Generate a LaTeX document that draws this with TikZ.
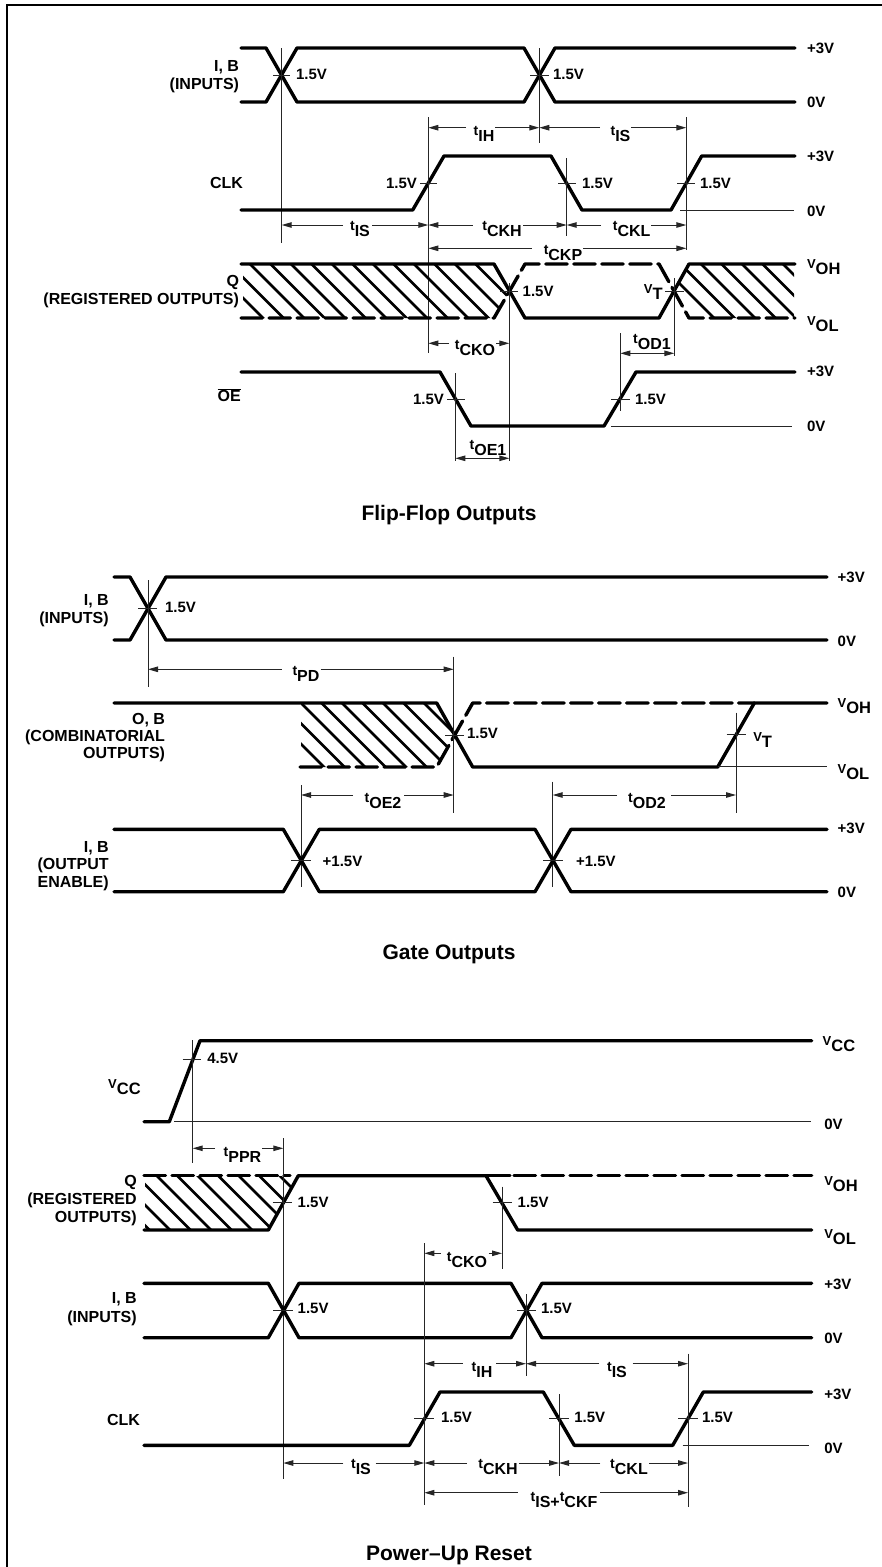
\documentclass[tikz,border=0pt]{standalone}
\usepackage{fontspec}
\setmainfont{Liberation Sans}
\usetikzlibrary{arrows.meta}
\newcounter{lbn}
\newcommand{\fs}[1]{\fontsize{#1}{#1}\selectfont}
\newcommand{\tsub}[1]{{\fs{14}t}\raisebox{-6pt}{\fs{16}#1}}
\newcommand{\vsub}[1]{{\fs{13}V}\raisebox{-6pt}{\fs{16.5}#1}}
% value label: left aligned, #2 centre height
\newcommand{\vall}[3]{\stepcounter{lbn}\node[txtn,anchor=base west,font=\bfseries\fs{15}] (n\thelbn) at (#1,#2+5.4) {#3};}
\newcommand{\valr}[3]{\stepcounter{lbn}\node[txtn,anchor=base east,font=\bfseries\fs{15}] (n\thelbn) at (#1,#2+5.4) {#3};}
% signal name: right aligned
\newcommand{\signame}[3]{\stepcounter{lbn}\node[txtn,anchor=base east,font=\bfseries\fs{16}] (n\thelbn) at (#1,#2+5.7) {#3};}
% subscripted label, #2 = baseline
\newcommand{\subl}[3]{\stepcounter{lbn}\node[txtn,anchor=base west,font=\bfseries] (n\thelbn) at (#1,#2) {#3};}
\newcommand{\subr}[3]{\stepcounter{lbn}\node[txtn,anchor=base east,font=\bfseries] (n\thelbn) at (#1,#2) {#3};}
\newcommand{\ttl}[2]{\stepcounter{lbn}\node[txtn,anchor=base,font=\bfseries\fs{21}] (n\thelbn) at (449,#1) {#2};}
% dimension: x1 x2 y xc xl xr baseline text
\newcommand{\dimm}[8]{\stepcounter{lbn}%
 \coordinate (a\thelbn) at (#1,#3); \coordinate (b\thelbn) at (#2,#3);
 \coordinate (c\thelbn) at (#5,#3); \coordinate (d\thelbn) at (#6,#3);
 \draw[dimline] (c\thelbn) -- (a\thelbn);
 \draw[dimline] (d\thelbn) -- (b\thelbn);
 \node[txtn,anchor=base,font=\bfseries] (n\thelbn) at (#4,#7) {#8};}
% hatch: clip polygon given, top y, bottom y, first x at top, last x at top
\newcommand{\hatchlines}[5]{\begin{scope}\clip #1;
 \pgfmathsetmacro{\nx}{#4+20.5}
 \foreach \hx in {#4,\nx,...,#5} \draw[hatchl] (\hx-10,#2-10) -- (\hx+#3-#2+10,#3+10);
 \end{scope}}
\tikzset{
 txtn/.style={inner sep=0pt,outer sep=0pt},
 wave/.style={line width=3.4pt,line cap=round,line join=round},
 dwave/.style={line width=3.4pt,line cap=round,line join=round,dash pattern=on 21.5pt off 6.5pt},
 thinl/.style={line width=1pt,black!85},
 hatchl/.style={line width=2.6pt},
 dimline/.style={line width=1pt,black!85,-{Triangle[length=10pt,width=5.5pt]}},
 frameline/.style={line width=2.2pt}
}
\begin{document}
\begin{tikzpicture}[x=1pt,y=-1pt]
\useasboundingbox (0,0) rectangle (882,1567);
\draw[frameline] (7,1567) -- (7,5) -- (882,5);

%%%%%%%% Flip-Flop Outputs
\draw[wave] (241,48) -- (266,48) -- (297,102) -- (524,102) -- (555,48) -- (795,48);
\draw[wave] (241,102) -- (266,102) -- (297,48) -- (524,48) -- (555,102) -- (795,102);
\draw[thinl] (281.7,48) -- (281.7,243);
\draw[thinl] (273,75) -- (290,75);
\draw[thinl] (539.3,48) -- (539.3,143);
\draw[thinl] (530,75) -- (549,75);
\vall{296}{74}{1.5V} \vall{553}{74}{1.5V}
\vall{807}{48}{+3V} \vall{807}{102}{0V}
\signame{239}{66}{I, B} \signame{239}{84}{(INPUTS)}

\draw[wave] (241,210) -- (412.7,210) -- (444,156) -- (551,156) -- (582,210) -- (671,210) -- (701.7,156) -- (795,156);
\draw[thinl] (428.3,117) -- (428.3,353);
\draw[thinl] (420,183) -- (437,183);
\draw[thinl] (566.7,158) -- (566.7,236);
\draw[thinl] (558,183) -- (576,183);
\draw[thinl] (686.3,117) -- (686.3,250);
\draw[thinl] (677,183) -- (695,183);
\draw[thinl] (680,210) -- (794,210);
\valr{417}{183}{1.5V} \vall{582}{183}{1.5V} \vall{700}{183}{1.5V}
\vall{807}{156}{+3V} \vall{807}{211}{0V}
\signame{243}{183}{CLK}

\dimm{428.3}{539.3}{127.7}{484}{466}{495}{135.5}{\tsub{IH}}
\dimm{539.3}{686.3}{127.7}{620.5}{600}{631}{135.5}{\tsub{IS}}
\dimm{281.7}{428.3}{225}{360}{343}{372}{230}{\tsub{IS}}
\dimm{428.3}{566.7}{225}{502}{472.7}{523}{230}{\tsub{CKH}}
\dimm{566.7}{686.3}{225}{631.7}{601}{651}{230}{\tsub{CKL}}
\dimm{428.3}{686.3}{248.3}{563}{531.7}{583}{254}{\tsub{CKP}}

\hatchlines{(243,264) -- (494,264) -- (509.3,291) -- (494,318) -- (243,318) -- cycle}{264}{318}{209}{500}
\hatchlines{(689,264) -- (794,264) -- (794,318) -- (689,318) -- (674.3,291) -- cycle}{264}{318}{660}{800}
\draw[dwave] (241,318) -- (494,318) -- (525,264) -- (659,264) -- (689,318) -- (795,318);
\draw[wave] (241,264) -- (494,264) -- (525,318) -- (659,318) -- (689,264) -- (795,264);
\draw[thinl] (509.3,283) -- (509.3,460.7);
\draw[thinl] (500,291) -- (518,291);
\draw[thinl] (674.3,278) -- (674.3,356);
\draw[thinl] (665,291) -- (683.7,291);
\vall{522.7}{291}{1.5V}
\subr{662.7}{293.5}{\vsub{T}}
\subl{807}{268.5}{\vsub{OH}} \subl{807}{325}{\vsub{OL}}
\signame{239}{280.7}{Q} \signame{239}{299}{(REGISTERED OUTPUTS)}
\dimm{428.3}{509.3}{343.3}{475}{449}{496}{349.5}{\tsub{CKO}}
\dimm{620.3}{674.3}{353.3}{652}{647}{647}{343.5}{\tsub{OD1}}

\draw[wave] (241,372) -- (440,372) -- (471,426) -- (604,426) -- (636,372) -- (795,372);
\draw[thinl] (455.3,373) -- (455.3,460.7);
\draw[thinl] (447,399) -- (465,399);
\draw[thinl] (620.3,333) -- (620.3,410.7);
\draw[thinl] (611,399) -- (630,399);
\draw[thinl] (611,426) -- (791.7,426);
\valr{444}{399}{1.5V} \vall{635}{399}{1.5V}
\vall{807}{371}{+3V} \vall{807}{426}{0V}
\signame{240.7}{396}{$\overline{\mbox{OE}}$}
\dimm{455.3}{509.3}{458.3}{488}{482}{482}{449}{\tsub{OE1}}
\ttl{520}{Flip-Flop Outputs}

%%%%%%%% Gate Outputs
\draw[wave] (114,577) -- (130,577) -- (166,640) -- (827,640);
\draw[wave] (114,640) -- (130,640) -- (166,577) -- (827,577);
\draw[thinl] (148,580) -- (148,686.7);
\draw[thinl] (138,608.5) -- (157,608.5);
\vall{165}{607}{1.5V}
\vall{837.7}{577}{+3V} \vall{837.7}{641}{0V}
\signame{108.7}{600}{I, B} \signame{108.7}{618}{(INPUTS)}
\dimm{148}{453.7}{669.3}{306}{281.7}{320.5}{675.7}{\tsub{PD}}

\hatchlines{(301,703) -- (437,703) -- (453.7,735) -- (437,767) -- (301,767) -- cycle}{703}{767}{260}{440}
\draw[dwave] (300,767) -- (436.7,767) -- (472.7,703) -- (754.3,703);
\draw[wave] (114,703) -- (436.7,703) -- (472.7,767) -- (717.7,767) -- (754.3,703) -- (827,703);
\draw[thinl] (453.7,656.7) -- (453.7,813);
\draw[thinl] (445,735) -- (464,735);
\draw[thinl] (736,712.7) -- (736,813.3);
\draw[thinl] (726.7,734) -- (746,734);
\draw[thinl] (717.7,766.5) -- (827,766.5);
\vall{467}{733}{1.5V}
\subl{753.3}{741}{\vsub{T}}
\subl{837.7}{707}{\vsub{OH}} \subl{837.7}{773}{\vsub{OL}}
\signame{165}{719}{O, B} \signame{165}{735.5}{(COMBINATORIAL} \signame{165}{753}{OUTPUTS)}
\draw[thinl] (301,785) -- (301,886.7);
\draw[thinl] (552.7,781.7) -- (552.7,886.7);
\dimm{301}{453.7}{795}{383}{353}{404}{802.3}{\tsub{OE2}}
\dimm{552.7}{736}{795}{647}{617}{671}{802.3}{\tsub{OD2}}

\draw[wave] (114,829.3) -- (283.3,829.3) -- (319.3,891.7) -- (535,891.7) -- (571,829.3) -- (827,829.3);
\draw[wave] (114,891.7) -- (283.3,891.7) -- (319.3,829.3) -- (535,829.3) -- (571,891.7) -- (827,891.7);
\draw[thinl] (291,860.7) -- (311,860.7);
\draw[thinl] (543,860.7) -- (563,860.7);
\vall{322.7}{860.7}{+1.5V} \vall{576}{860.7}{+1.5V}
\vall{837.7}{828}{+3V} \vall{837.7}{892}{0V}
\signame{108.7}{846.7}{I, B} \signame{108.7}{864}{(OUTPUT} \signame{108.7}{881.7}{ENABLE)}
\ttl{959}{Gate Outputs}

%%%%%%%% Power-Up Reset
\draw[wave] (144,1121.7) -- (169.3,1121.7) -- (200,1040.7) -- (811.7,1040.7);
\draw[thinl] (174,1121.7) -- (811,1121.7);
\draw[thinl] (192.7,1040) -- (192.7,1163.3);
\draw[thinl] (182.7,1059) -- (201,1059);
\vall{207.3}{1058}{4.5V}
\vall{824.3}{1124}{0V}
\subl{822.7}{1045}{\vsub{CC}}
\subr{140.7}{1088}{\vsub{CC}}
\dimm{192.7}{283.3}{1148.3}{242.5}{215}{262}{1156.5}{\tsub{PPR}}

\hatchlines{(145,1176) -- (298,1176) -- (268,1230) -- (145,1230) -- cycle}{1176}{1230}{95.5}{300}
\draw[dwave] (144,1175.7) -- (290,1175.7);
\draw[wave] (486,1175.7) -- (510,1175.7);
\draw[dwave] (514,1175.7) -- (811.7,1175.7);
\draw[wave] (144,1230) -- (268.3,1230) -- (298.3,1175.7) -- (486,1175.7) -- (517.7,1230) -- (811.7,1230);
\draw[thinl] (283.3,1138.3) -- (283.3,1478.7);
\draw[thinl] (272.7,1202.7) -- (291.7,1202.7);
\draw[thinl] (502,1186.7) -- (502,1269);
\draw[thinl] (492.7,1202.7) -- (512,1202.7);
\vall{297.7}{1202}{1.5V} \vall{517.7}{1202}{1.5V}
\subl{824.3}{1185}{\vsub{OH}} \subl{824.3}{1238}{\vsub{OL}}
\signame{136.7}{1180.7}{Q} \signame{136.7}{1199}{(REGISTERED} \signame{136.7}{1216.7}{OUTPUTS)}
\dimm{424.3}{502}{1253.3}{467}{441}{488.7}{1261}{\tsub{CKO}}

\draw[wave] (144,1283.3) -- (268.3,1283.3) -- (299,1337.7) -- (511,1337.7) -- (542,1283.3) -- (811.7,1283.3);
\draw[wave] (144,1337.7) -- (268.3,1337.7) -- (299,1283.3) -- (511,1283.3) -- (542,1337.7) -- (811.7,1337.7);
\draw[thinl] (273,1310) -- (293,1310);
\draw[thinl] (526,1294.3) -- (526,1376.3);
\draw[thinl] (517,1310) -- (536,1310);
\vall{297.7}{1308}{1.5V} \vall{541}{1308}{1.5V}
\vall{824.3}{1284}{+3V} \vall{824.3}{1337.7}{0V}
\signame{136.7}{1298}{I, B} \signame{136.7}{1317}{(INPUTS)}

\draw[wave] (144,1445.3) -- (409.3,1445.3) -- (440,1392) -- (543.3,1392) -- (574.3,1445.3) -- (672.7,1445.3) -- (703.3,1392) -- (811.7,1392);
\draw[thinl] (424.3,1243.3) -- (424.3,1505.3);
\draw[thinl] (414.3,1418.7) -- (434.3,1418.7);
\draw[thinl] (559,1394.3) -- (559,1476.3);
\draw[thinl] (549.3,1418.7) -- (568.7,1418.7);
\draw[thinl] (688,1353.7) -- (688,1507);
\draw[thinl] (678.3,1418.7) -- (697.7,1418.7);
\draw[thinl] (682.7,1445.3) -- (809.3,1445.3);
\vall{441}{1417}{1.5V} \vall{574.3}{1417}{1.5V} \vall{702}{1417}{1.5V}
\vall{824.3}{1393.7}{+3V} \vall{824.3}{1447.7}{0V}
\signame{140}{1419.7}{CLK}
\dimm{424.3}{526}{1363.7}{482}{462.7}{496}{1371}{\tsub{IH}}
\dimm{526}{688}{1363.7}{617}{599.3}{632.7}{1371}{\tsub{IS}}
\dimm{283.3}{424.3}{1463}{361}{343.3}{375.7}{1468.3}{\tsub{IS}}
\dimm{424.3}{559}{1463}{498}{467}{519}{1468.3}{\tsub{CKH}}
\dimm{559}{688}{1463}{629}{600.3}{649}{1468.3}{\tsub{CKL}}
\dimm{424.3}{688}{1492.7}{564}{517.7}{600}{1501}{\tsub{IS}\raisebox{-6pt}{\fs{16}+}\tsub{CKF}}
\ttl{1560}{Power–Up Reset}
\end{tikzpicture}
\end{document}
